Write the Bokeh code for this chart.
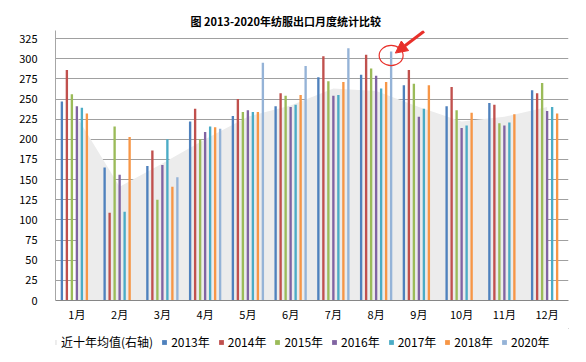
from bokeh.plotting import figure
from bokeh.layouts import column
from bokeh.models import (Range1d, FixedTicker, Legend, LegendItem, Arrow,
                          NormalHead, ColumnDataSource)
from bokeh.embed import file_html
from bokeh.resources import INLINE

months = ["1月", "2月", "3月", "4月", "5月", "6月", "7月", "8月", "9月", "10月", "11月", "12月"]
avg10 = [228, 141, 170, 200, 228, 242, 263, 260, 240, 222, 228, 240]
y2013 = [247, 165, 167, 222, 229, 241, 277, 280, 267, 241, 245, 261]
y2014 = [286, 109, 186, 238, 250, 257, 303, 305, 286, 265, 243, 257]
y2015 = [256, 216, 125, 200, 234, 254, 272, 288, 269, 236, 220, 270]
y2016 = [241, 156, 168, 209, 236, 240, 254, 279, 228, 214, 217, 235]
y2017 = [239, 110, 200, 216, 234, 243, 255, 263, 238, 217, 221, 240]
y2018 = [232, 203, 141, 215, 234, 255, 271, 271, 267, 233, 231, 232]
y2020 = [None, None, 153, 213, 295, 291, 313, 309, None, None, None, None]

avg_name = "近十年均值(右轴)"
series_names = ["2013年", "2014年", "2015年", "2016年", "2017年", "2018年", "2020年"]
series_vals = [y2013, y2014, y2015, y2016, y2017, y2018, y2020]
colors = ["#4F81BD", "#C0504D", "#9BBB59", "#8064A2", "#4BACC6", "#F79646", "#95B3D7"]
area_color = "#ECECEC"
yticks = list(range(0, 326, 25))

FONT = "Noto Sans CJK SC"

p = figure(frame_width=513, frame_height=270, output_backend="svg", toolbar_location=None,
           x_range=Range1d(0, 12), y_range=Range1d(0, 335),
           min_border_left=55, min_border_right=18, min_border_top=30,
           min_border_bottom=28)
p.outline_line_color = None
p.background_fill_color = "white"

p.title.text = "图 2013-2020年纺服出口月度统计比较"
p.title.align = "left"
p.title.offset = 135
p.title.standoff = 4
p.title.text_font = FONT
p.title.text_font_size = "11px"
p.title.text_font_style = "bold"
p.title.text_color = "#000000"

centers = [i + 0.5 for i in range(len(months))]
p.varea(x=centers, y1=[0] * len(months), y2=avg10, fill_color=area_color)

step = 0.117
for k, (name, vals, c) in enumerate(zip(series_names, series_vals, colors)):
    xs = [centers[i] + (k - 3) * step for i, v in enumerate(vals) if v is not None]
    ys = [v for v in vals if v is not None]
    src = ColumnDataSource(dict(x=xs, top=ys))
    p.vbar(x="x", top="top", bottom=0, width=0.055, source=src,
           fill_color=c, line_color=None)

# annotation: circle + arrow around the 2020 August bar
hx = centers[7] + 3 * step
hy = y2020[7] - 5
p.ellipse(x=hx, y=hy, width=0.56, height=25, fill_alpha=0,
          line_color="#E8302A", line_width=1.2)
p.add_layout(Arrow(end=NormalHead(size=12, fill_color="#E8302A", line_color="#E8302A"),
                   x_start=hx + 0.77, y_start=hy + 30, x_end=hx + 0.1, y_end=hy + 3,
                   line_color="#E8302A", line_width=3))

p.xaxis.ticker = FixedTicker(ticks=centers)
p.xaxis.major_label_overrides = {c: m for c, m in zip(centers, months)}
p.xaxis.major_tick_line_color = None
p.xaxis.major_tick_out = 0
p.xaxis.major_tick_in = 0
p.xaxis.minor_tick_line_color = None
p.xaxis.axis_line_color = "#868686"
p.xaxis.major_label_text_font = FONT
p.xaxis.major_label_text_font_size = "11px"
p.xaxis.major_label_text_color = "#000000"
p.xaxis.major_label_standoff = 5

p.yaxis.ticker = FixedTicker(ticks=yticks)
p.yaxis.major_tick_line_color = None
p.yaxis.minor_tick_line_color = None
p.yaxis.axis_line_color = "#A6A6A6"
p.yaxis.major_label_text_font = FONT
p.yaxis.major_label_text_font_size = "11px"
p.yaxis.major_label_text_color = "#000000"
p.yaxis.major_label_standoff = 12

p.xgrid.grid_line_color = None
p.ygrid.ticker = FixedTicker(ticks=yticks)
p.ygrid.grid_line_color = "#A0A0A0"
p.ygrid.grid_line_width = 1

# legend strip as its own small figure (legend inside its frame)
lg = figure(width=586, height=34, output_backend="svg", toolbar_location=None,
            x_range=Range1d(0, 1), y_range=Range1d(0, 1),
            x_axis_type=None, y_axis_type=None, min_border=0)
lg.outline_line_color = None
lg.grid.visible = False
# swatch-only renderers, placed outside the strip's visible range
items = [LegendItem(label=avg_name,
                    renderers=[lg.varea(x=[5, 6], y1=[5, 5], y2=[6, 6],
                                        fill_color=area_color)])]
for n, c in zip(series_names, colors):
    r = lg.vbar(x=[5], top=[6], bottom=5, width=0.1, fill_color=c, line_color=None)
    items.append(LegendItem(label=n, renderers=[r]))
legend = Legend(items=items, orientation="horizontal", location=(-4, 12),
                glyph_width=6, glyph_height=6, label_standoff=4, spacing=8,
                label_text_font=FONT, label_text_font_size="12px",
                label_text_color="#000000", border_line_color=None,
                background_fill_alpha=0, padding=0, margin=0)
lg.add_layout(legend, "center")

layout = column(p, lg, spacing=0)
open("out.html", "w").write(file_html(layout, INLINE))
